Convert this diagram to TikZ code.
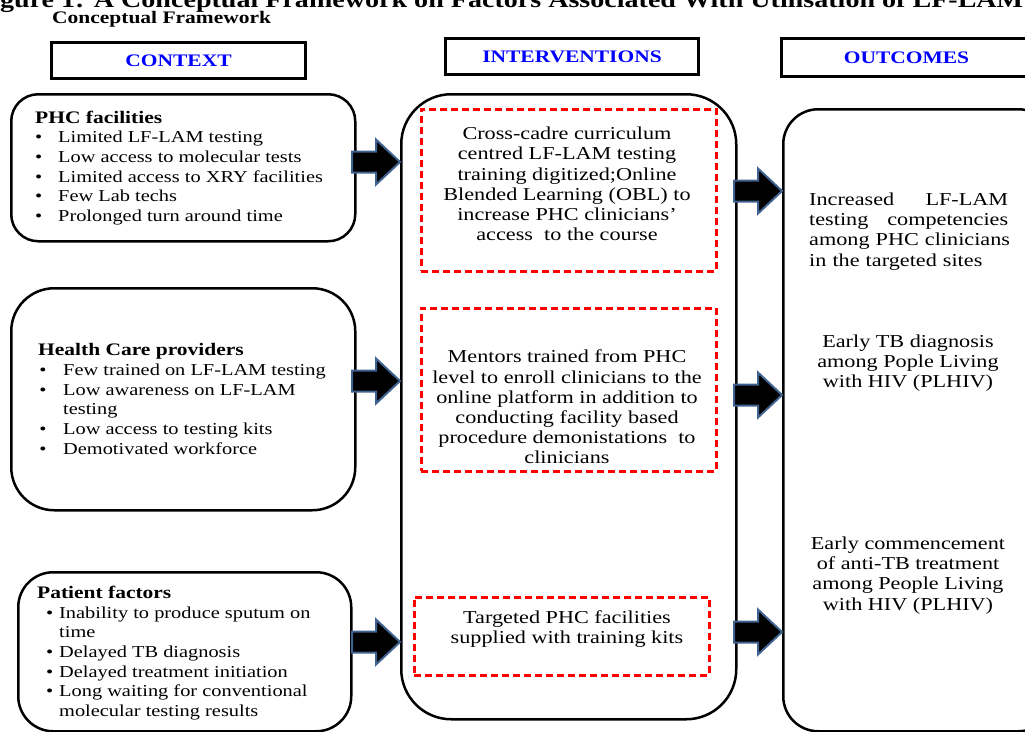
\documentclass[tikz,border=0pt]{standalone}
\usepackage{fontspec}
\setmainfont{Liberation Serif}[FakeStretch=1.22]
\usetikzlibrary{calc}
\definecolor{arrowedge}{HTML}{3F6290}
\definecolor{hdrblue}{RGB}{0,0,255}
\newcommand\blockarr[1]{\draw[blockarrow] (#1) ++(-48,-10.5) -- ++(24,0) -- ++(0,-12) -- ++(24,22.5) -- ++(-24,22.5) -- ++(0,-12) -- ++(-24,0) -- cycle;}
\newcommand\bulA{\makebox[23pt][l]{\textbullet}}
\newcommand\bulB{\makebox[25pt][l]{\hspace{1.2pt}\textbullet}}
\newcommand\bulC{\makebox[22pt][l]{\hspace{9pt}\textbullet}}
\newcommand\boxhead[1]{{\fontsize{17.6}{19.7}\selectfont\bfseries #1}}
\begin{document}
\begin{tikzpicture}[x=1pt,y=-1pt,
  hdr/.style={draw=black, line width=3pt, minimum height=36pt, inner sep=0pt, anchor=north west,
    font=\fontsize{17.6}{20}\selectfont\bfseries, text=hdrblue},
  rbox/.style={draw=black, line width=2.5pt, inner sep=0pt, anchor=north west},
  redbox/.style={draw=red, line width=2.5pt, dash pattern=on 7pt off 4pt, inner sep=0pt, anchor=north west},
  ctxtext/.style={font=\fontsize{16.7}{19.7}\selectfont, inner sep=0pt, align=left, anchor=west},
  body/.style={font=\fontsize{18.2}{20.2}\selectfont, inner sep=0pt},
  blockarrow/.style={fill=black, draw=arrowedge, line width=2pt, line join=miter}]
\useasboundingbox (0,0) rectangle (1025,731);
\begin{scope}
\clip (0,0) rectangle (1025,731);
% title
\node[anchor=base west, inner sep=0pt, font=\fontsize{23}{26}\selectfont\bfseries] (title) at (-25,7)
  {Figure 1: A Conceptual Framework on Factors Associated With Utilisation of LF-LAM};
\node[anchor=base west, inner sep=0pt, font=\fontsize{17.6}{20}\selectfont\bfseries] (sub) at (52,23) {Conceptual Framework};
% headers
\node[hdr, minimum width=254pt] (hctx) at (50,41) {CONTEXT};
\node[hdr, minimum width=253pt] (hint) at (444,37) {INTERVENTIONS};
\node[hdr, minimum width=250pt, minimum height=38pt] (hout) at (780,37) {OUTCOMES};
% boxes
\node[rbox, rounded corners=27pt, minimum width=344pt, minimum height=147pt] (ctx1) at (10,93) {};
\node[rbox, rounded corners=43pt, minimum width=344pt, minimum height=222pt] (ctx2) at (10,287) {};
\node[rbox, rounded corners=35pt, minimum width=333pt, minimum height=159pt] (ctx3) at (17,571) {};
\node[rbox, rounded corners=50pt, minimum width=335pt, minimum height=625pt] (int) at (400,93) {};
\node[rbox, rounded corners=35pt, minimum width=270pt, minimum height=622pt] (out) at (782,108) {};
\node[redbox, minimum width=295pt, minimum height=162pt] (r1) at (420,108) {};
\node[redbox, minimum width=295pt, minimum height=163pt] (r2) at (420,307) {};
\node[redbox, minimum width=295pt, minimum height=78pt] (r3) at (413,596) {};
% context texts
\node[ctxtext] (t1) at (35,168) {\boxhead{PHC facilities}\\
  \bulA Limited LF-LAM testing\\
  \bulA Low access to molecular tests\\
  \bulA Limited access to XRY facilities\\
  \bulA Few Lab techs\\
  \bulA Prolonged turn around time};
\node[ctxtext] (t2) at (38,399) {\boxhead{Health Care providers}\\
  \bulB Few trained on LF-LAM testing\\
  \bulB Low awareness on LF-LAM\\
  \hspace*{25pt}testing\\
  \bulB Low access to testing kits\\
  \bulB Demotivated workforce};
\node[ctxtext] (t3) at (37,653) {\boxhead{Patient factors}\\
  \bulC Inability to produce sputum on\\
  \hspace*{22pt}time\\
  \bulC Delayed TB diagnosis\\
  \bulC Delayed treatment initiation\\
  \bulC Long waiting for conventional\\
  \hspace*{22pt}molecular testing results};
% intervention texts
\node[body, align=center] (i1) at (567,184) {Cross-cadre curriculum\\centred LF-LAM testing\\training digitized;Online\\Blended Learning (OBL) to\\increase PHC clinicians’\\access\ \ to the course};
\node[body, align=center] (i2) at (567,407) {Mentors trained from PHC\\level to enroll clinicians to the\\online platform in addition to\\conducting facility based\\procedure demonistations\ \ to\\clinicians};
\node[body, align=center] (i3) at (567,629) {Targeted PHC facilities\\supplied with training kits};
% outcome texts
\node[body, text width=199pt, align=left, anchor=west] (o1) at (809,231.5) {\makebox[199pt][s]{Increased\hfill LF-LAM}\\\makebox[199pt][s]{testing\hfill competencies}\\\mbox{among PHC clinicians}\\\mbox{in the targeted sites}};
\node[body, align=center] (o2) at (908,363) {Early TB diagnosis\\among Pople Living\\with HIV (PLHIV)};
\node[body, align=center] (o3) at (908,575.5) {Early commencement\\of anti-TB treatment\\among People Living\\with HIV (PLHIV)};
% arrows
\coordinate (ya1) at (0,162);
\coordinate (ya2) at (0,381);
\coordinate (ya3) at (0,642);
\coordinate (yb1) at (0,191);
\coordinate (yb2) at (0,395);
\coordinate (yb3) at (0,632);
\coordinate (ta1) at (int.west |- ya1);
\coordinate (ta2) at (int.west |- ya2);
\coordinate (ta3) at (int.west |- ya3);
\coordinate (tb1) at (out.west |- yb1);
\coordinate (tb2) at (out.west |- yb2);
\coordinate (tb3) at (out.west |- yb3);
\blockarr{ta1}
\blockarr{ta2}
\blockarr{ta3}
\blockarr{tb1}
\blockarr{tb2}
\blockarr{tb3}
\end{scope}
\end{tikzpicture}
\end{document}
